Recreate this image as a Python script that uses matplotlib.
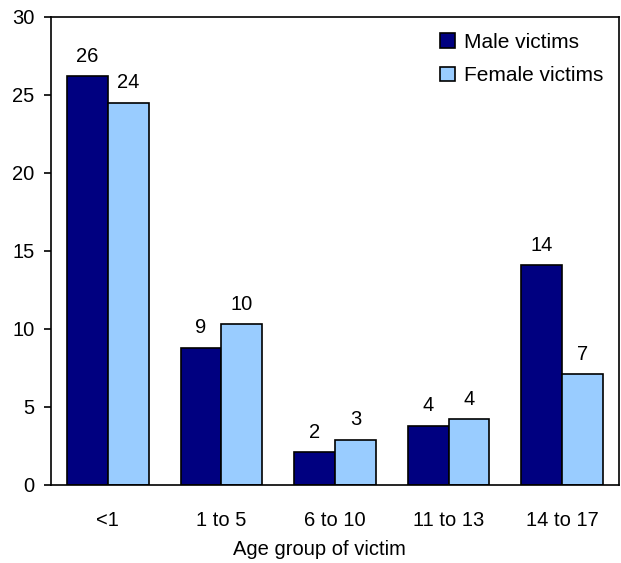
import numpy as np
import matplotlib.pyplot as plt

plt.rcParams['font.family'] = ['Liberation Sans', 'DejaVu Sans']

# Data
age_groups = ['<1', '1 to 5', '6 to 10', '11 to 13', '14 to 17']
male = [26.2, 8.8, 2.1, 3.8, 14.1]
female = [24.5, 10.3, 2.9, 4.2, 7.1]
male_labels = ['26', '9', '2', '4', '14']
female_labels = ['24', '10', '3', '4', '7']

fig = plt.figure(figsize=(6.21, 5.63), dpi=100)
ax = fig.add_axes([51 / 621, 78 / 563, 568 / 621, 468 / 563])

x = np.arange(len(age_groups))
w = 0.36
b1 = ax.bar(x - w / 2, male, w, color='#000080', edgecolor='black', linewidth=1.2, label='Male victims')
b2 = ax.bar(x + w / 2, female, w, color='#99CCFF', edgecolor='black', linewidth=1.2, label='Female victims')

fs = 14.5
for bars, labs in [(b1, male_labels), (b2, female_labels)]:
    for bar, lab in zip(bars, labs):
        ax.annotate(lab, (bar.get_x() + bar.get_width() / 2, bar.get_height()),
                    xytext=(0, 7.5), textcoords='offset points',
                    ha='center', va='bottom', fontsize=fs)

ax.set_xlim(-0.5, 4.5)
ax.set_ylim(0, 30)
ax.set_yticks([0, 5, 10, 15, 20, 25, 30])
ax.set_xticks(x)
ax.set_xticklabels(age_groups)
ax.tick_params(axis='x', length=0, pad=19, labelsize=fs)
ax.tick_params(axis='y', direction='out', length=5, width=1.2, labelsize=fs, pad=7)
for s in ax.spines.values():
    s.set_linewidth(1.2)
ax.set_xlabel('Age group of victim', fontsize=fs)
ax.xaxis.set_label_coords(0.472, -0.117)

ax.legend(loc='upper right', frameon=False, fontsize=15, handlelength=0.7, handleheight=0.7,
          handletextpad=0.45, labelspacing=0.7, borderaxespad=0.35)

fig.savefig('out.png', dpi=100)
